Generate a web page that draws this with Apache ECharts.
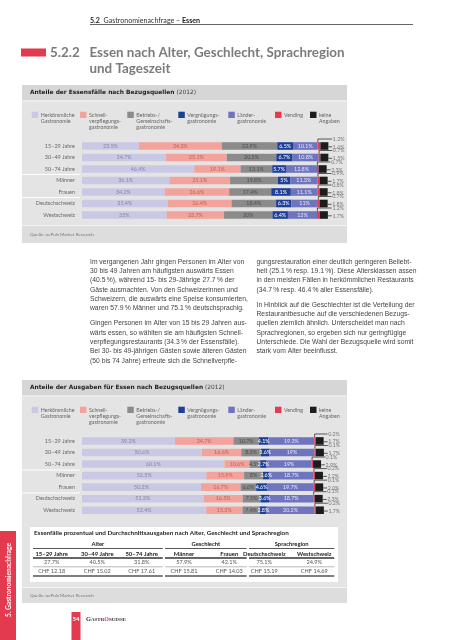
<!DOCTYPE html>
<html><head><meta charset="utf-8">
<script src="https://cdn.jsdelivr.net/npm/echarts@6/dist/echarts.min.js"></script>
<style>html,body{margin:0;padding:0;background:#fff}#c{width:453px;height:640px}</style>
</head><body><div id="c"></div>
<script>
// ---------- DATA ----------
const rowLabels = ['15–29 Jahre','30–49 Jahre','50–74 Jahre','Männer','Frauen','Deutschschweiz','Westschweiz'];
const legendLabels = ['Herkömmliche\nGastronomie','Schnell-\nverpflegungs-\ngastronomie','Betriebs-/\nGemeinschafts-\ngastronomie','Vergnügungs-\ngastronomie','Länder-\ngastronomie','Vending','keine\nAngaben'];
const seriesNames = ['Herkömmliche Gastronomie','Schnellverpflegungsgastronomie','Betriebs-/Gemeinschaftsgastronomie','Vergnügungsgastronomie','Ländergastronomie','Vending','keine Angaben'];
// Chart 1: Anteile der Essensfälle nach Bezugsquellen (2012)
const c1Herk    = [23.5,34.7,46.4,36.1,34.2,35.4,35];
const c1Schnell = [34.3,25.1,19.1,25.1,26.6,26.4,23.7];
const c1Betrieb = [22.9,20.5,13.1,19.8,17.4,18.4,20];
const c1Vergn   = [6.5,6.7,5.7,5,8.1,6.3,6.4];
const c1Laender = [10.1,10.8,12.8,11.3,11.1,11,12];
const c1Vending = [1.2,0.7,0.7,0.9,0.8,0.7,1.2];
const c1Keine   = [1.6,1.5,2.3,1.7,1.8,1.8,1.7];
// Chart 2: Anteile der Ausgaben für Essen nach Bezugsquellen (2012)
const c2Herk    = [39.2,50.6,60.1,52.5,50.2,51.3,52.4];
const c2Schnell = [24.7,16.6,10.6,15.9,16.7,16.5,15.3];
const c2Betrieb = [10.7,8.3,4.5,8,6.6,7.5,7.4];
const c2Vergn   = [4.1,3.6,2.7,2.6,4.6,3.6,2.8];
const c2Laender = [19.3,19,19,18.7,19.7,18.7,20.2];
const c2Vending = [0.2,0.1,0.1,0.2,0.1,0.1,0.2];
const c2Keine   = [1.7,1.7,2.9,2.2,2.0,2.3,1.7];
// Table
const tblGroups = ['Alter','Geschlecht','Sprachregion'];
const tblHeads  = ['15–29 Jahre','30–49 Jahre','50–74 Jahre','Männer','Frauen','Deutschschweiz','Westschweiz'];
const tblShare  = ['27.7%','40.5%','31.8%','57.9%','42.1%','75.1%','24.9%'];
const tblSpend  = ['CHF 12.18','CHF 15.02','CHF 17.61','CHF 15.81','CHF 14.03','CHF 15.19','CHF 14.69'];
// Body text
const bodyLeft = [
 ['Im vergangenen Jahr gingen Personen im Alter von','30 bis 49 Jahren am häufigsten auswärts Essen','(40.5\u2009%), während 15- bis 29-Jährige 27.7\u2009% der','Gäste ausmachten. Von den Schweizerinnen und','Schweizern, die auswärts eine Speise konsumierten,','waren 57.9\u2009% Männer und 75.1\u2009% deutschsprachig.'],
 ['Gingen Personen im Alter von 15 bis 29 Jahren aus-','wärts essen, so wählten sie am häufigsten Schnell-','verpflegungsrestaurants (34.3\u2009% der Essensfälle).','Bei 30- bis 49-jährigen Gästen sowie älteren Gästen','(50 bis 74 Jahre) erfreute sich die Schnellverpfle-']
];
const bodyRight = [
 ['gungsrestauration einer deutlich geringeren Beliebt-','heit (25.1\u2009% resp. 19.1\u2009%). Diese Altersklassen assen','in den meisten Fällen in herkömmlichen Restaurants','(34.7\u2009% resp. 46.4\u2009% aller Essensfälle).'],
 ['In Hinblick auf die Geschlechter ist die Verteilung der','Restaurantbesuche auf die verschiedenen Bezugs-','quellen ziemlich ähnlich. Unterscheidet man nach','Sprachregionen, so ergeben sich nur geringfügige','Unterschiede. Die Wahl der Bezugsquelle wird somit','stark vom Alter beeinflusst.']
];

// ---------- STYLE ----------
const colors = ['#c9c9e6','#f3a39b','#8b8b8b','#1d3f98','#6f74bf','#e63a50','#1c1c1c'];
const labelColors = ['#8585a5','#b8665f','#4d4d4d','#ffffff','#e4e4fb'];
const F = 'Lato, "Open Sans", sans-serif';
const FB = '"DejaVu Sans", sans-serif';
const BODYF = '"Liberation Sans", Arial, sans-serif';
const RED = '#e33a50';
const BAR_H = 7.6;

const G = [];
function T(x,y,text,o){G.push({type:'text',x:x,y:y,silent:true,style:Object.assign({text:text,fontSize:6,fontFamily:F,fill:'#555',align:'left',verticalAlign:'middle'},o||{})});}
function R(x,y,w,h,fill){G.push({type:'rect',silent:true,shape:{x:x,y:y,width:w,height:h},style:{fill:fill}});}
function L(x1,y1,x2,y2,stroke,lw){G.push({type:'line',silent:true,shape:{x1:x1,y1:y1,x2:x2,y2:y2},style:{stroke:stroke,lineWidth:lw}});}

// header
T(90,20.5,'{b|5.2}  Gastronomienachfrage – {b|Essen}',{fontSize:7.1,fill:'#333',rich:{b:{fontWeight:'bold',fontSize:7.1,fontFamily:F,fill:'#222'}}});
L(90,24.5,413,24.5,'#666',1);
// title
R(21,48.5,25,8,RED);
T(50,53,'5.2.2',{fontSize:13.4,fontWeight:'bold',fill:'#7b7b7b'});
T(89.5,53,'Essen nach Alter, Geschlecht, Sprachregion',{fontSize:13.4,fontWeight:'bold',fill:'#7b7b7b'});
T(89.5,69,'und Tageszeit',{fontSize:13.4,fontWeight:'bold',fill:'#7b7b7b'});

const legendSwX = [31.7,80,127.3,178.3,228.3,275,310];
function panel(top, bottom, title, srcLineY, sepYs){
  R(22,top,325,bottom-top,'#e4e4e4');
  R(22,top,325,15.5,'#d6d6d6');
  L(22,top+16,347,top+16,'#f4f4f4',1);
  T(30,top+7.8,title,{fontSize:5.9,fontFamily:FB,fill:'#444',rich:{b:{fontWeight:'bold',fontSize:5.9,fontFamily:FB,fill:'#1e1e1e'}}});
  // legend
  for(let i=0;i<7;i++){
    R(legendSwX[i],top+26.7,6.5,6.3,colors[i]);
    T(legendSwX[i]+9,top+27.2,legendLabels[i],{fontSize:5.3,lineHeight:6,verticalAlign:'top',fill:'#666'});
  }
  sepYs.forEach(function(y){L(22,y,80,y,'#ffffff',1);});
  R(22,srcLineY,325,bottom-srcLineY,'#dddddd');
  L(22,srcLineY,347,srcLineY,'#f4f4f4',1);
  T(30,(srcLineY+bottom)/2,'Quelle: oePuls Market Research',{fontSize:4.6,fill:'#777'});
}
panel(85,243,'{b|Anteile der Essensfälle nach Bezugsquellen} (2012)',225.5,[174.5,197.5]);
panel(380,603,'{b|Anteile der Ausgaben für Essen nach Bezugsquellen} (2012)',587.5,[470,493]);

// body text
function para(x,y0,paras){
  let y=y0;
  paras.forEach(function(p){p.forEach(function(line){T(x,y,line,{fontSize:6.75,fontFamily:BODYF,fill:'#444'});y+=9.33;});y+=5.7;});
}
para(90,261.7,bodyLeft);
para(256.5,261.7,bodyRight);

// table
R(30,527,308,55,'#ffffff');
T(34,532.5,'Essenfälle prozentual und Durchschnittsausgaben nach Alter, Geschlecht und Sprachregion',{fontSize:6.35,fontWeight:'bold',fill:'#1e1e1e'});
const grpX = [[33,162.7],[165,246.7],[249,334.3]];
const colX = [51.7,97.3,141.7,184,229.3,264.3,314.3];
for(let g=0;g<3;g++){
  T((grpX[g][0]+grpX[g][1])/2,544.3,tblGroups[g],{fontSize:5.8,fontWeight:'bold',fill:'#222',align:'center'});
  L(grpX[g][0],548.5,grpX[g][1],548.5,'#444',0.9);
  L(grpX[g][0],558,grpX[g][1],558,'#333',1.3);
  L(grpX[g][0],566.8,grpX[g][1],566.8,'#999',0.7);
  L(grpX[g][0],576,grpX[g][1],576,'#555',1.3);
}
for(let i=0;i<7;i++){
  T(colX[i],553.8,tblHeads[i],{fontSize:5.9,fontWeight:'bold',fill:'#222',align:'center'});
  T(colX[i],562.6,tblShare[i],{fontSize:5.6,fill:'#555',align:'center'});
  T(colX[i],571.6,tblSpend[i],{fontSize:5.6,fill:'#555',align:'center'});
}

// side tab & footer
R(0,531,16,109,RED);
G.push({type:'text',x:8.5,y:580,rotation:Math.PI/2,silent:true,style:{text:'5. Gastronomienachfrage',fontSize:6.6,fontWeight:'bold',fontFamily:F,fill:'#ffffff',align:'center',verticalAlign:'middle'}});
R(71.5,612,9,28,RED);
T(76,619,'54',{fontSize:6,fontWeight:'bold',fill:'#ffffff',align:'center'});
T(86,619.5,'{a|G}{b|ASTR}{r|O}{b|SUISSE}',{fontFamily:'"Liberation Serif", serif',fill:'#333',rich:{a:{fontSize:6.4,fontWeight:'bold',fontFamily:'"Liberation Serif", serif',fill:'#333'},b:{fontSize:5,fontWeight:'bold',fontFamily:'"Liberation Serif", serif',fill:'#333'},r:{fontSize:6,fontWeight:'bold',fontFamily:'"Liberation Serif", serif',fill:RED}}});

// ---------- SERIES ----------
function sum5(a,b,c,d,e){return a.map(function(v,i){return +(v+b[i]+c[i]+d[i]+e[i]).toFixed(2);});}
function barSeries(idx, arrs){
  return arrs.map(function(arr,k){
    return {
      name: seriesNames[k], type:'bar', stack:'s'+idx, xAxisIndex:idx, yAxisIndex:idx,
      barWidth: BAR_H, data: arr, itemStyle:{color:colors[k]},
      label:{show:true,position:'inside',fontSize:5.4,fontFamily:F,color:labelColors[k],formatter:function(p){return p.value+'%';}}
    };
  });
}
function tailSeries(idx, base, vend, keine){
  return {
    type:'custom', xAxisIndex:idx, yAxisIndex:idx, z:3,
    data: vend.map(function(v,i){return [base[i], v, keine[i], i];}),
    encode:{x:0, y:3},
    renderItem:function(params, api){
      const start=api.value(0), v=api.value(1), k=api.value(2), row=api.value(3);
      const p=api.coord([start,row]);
      const top=p[1]-BAR_H/2;
      const vw=Math.max(api.size([v,0])[0],1.4);
      const kw=Math.max(api.size([k,0])[0],8);
      const kx=p[0]+vw, right=kx+kw, lx=right+4.5;
      const y1=top-3.2, y2=p[1]+0.8;
      return {type:'group', children:[
        {type:'rect',shape:{x:p[0],y:top,width:vw,height:BAR_H},style:{fill:colors[5]}},
        {type:'rect',shape:{x:kx,y:top,width:kw,height:BAR_H},style:{fill:colors[6]}},
        {type:'polyline',shape:{points:[[p[0]+0.4,top],[p[0]+0.4,y1],[lx-0.6,y1]]},style:{stroke:'#333',lineWidth:0.8,fill:'none'}},
        {type:'line',shape:{x1:right,y1:y2,x2:lx-0.6,y2:y2},style:{stroke:'#333',lineWidth:0.8}},
        {type:'text',x:lx,y:y1,style:{text:v.toFixed(1)+'%',fontSize:5.3,fontFamily:F,fill:'#777',verticalAlign:'middle'}},
        {type:'text',x:lx,y:y2,style:{text:k.toFixed(1)+'%',fontSize:5.3,fontFamily:F,fill:'#777',verticalAlign:'middle'}}
      ]};
    }
  };
}
const base1 = sum5(c1Herk,c1Schnell,c1Betrieb,c1Vergn,c1Laender);
const base2 = sum5(c2Herk,c2Schnell,c2Betrieb,c2Vergn,c2Laender);

function yAx(idx){return {type:'category',gridIndex:idx,data:rowLabels,inverse:true,axisLine:{show:false},axisTick:{show:false},axisLabel:{fontSize:5.5,fontFamily:F,color:'#666',margin:7}};}
function xAx(idx){return {type:'value',gridIndex:idx,min:0,max:100,show:false};}

const chart = echarts.init(document.getElementById('c'),null,{renderer:'canvas'});
chart.setOption({
  animation:false,
  backgroundColor:'#ffffff',
  grid:[
    {left:82,top:140.25,width:242,height:80.5},
    {left:82,top:435.2,width:237,height:80.8}
  ],
  xAxis:[xAx(0),xAx(1)],
  yAxis:[yAx(0),yAx(1)],
  graphic:{elements:G},
  series: [].concat(
    barSeries(0,[c1Herk,c1Schnell,c1Betrieb,c1Vergn,c1Laender]),
    [tailSeries(0,base1,c1Vending,c1Keine)],
    barSeries(1,[c2Herk,c2Schnell,c2Betrieb,c2Vergn,c2Laender]),
    [tailSeries(1,base2,c2Vending,c2Keine)]
  )
});
</script></body></html>
